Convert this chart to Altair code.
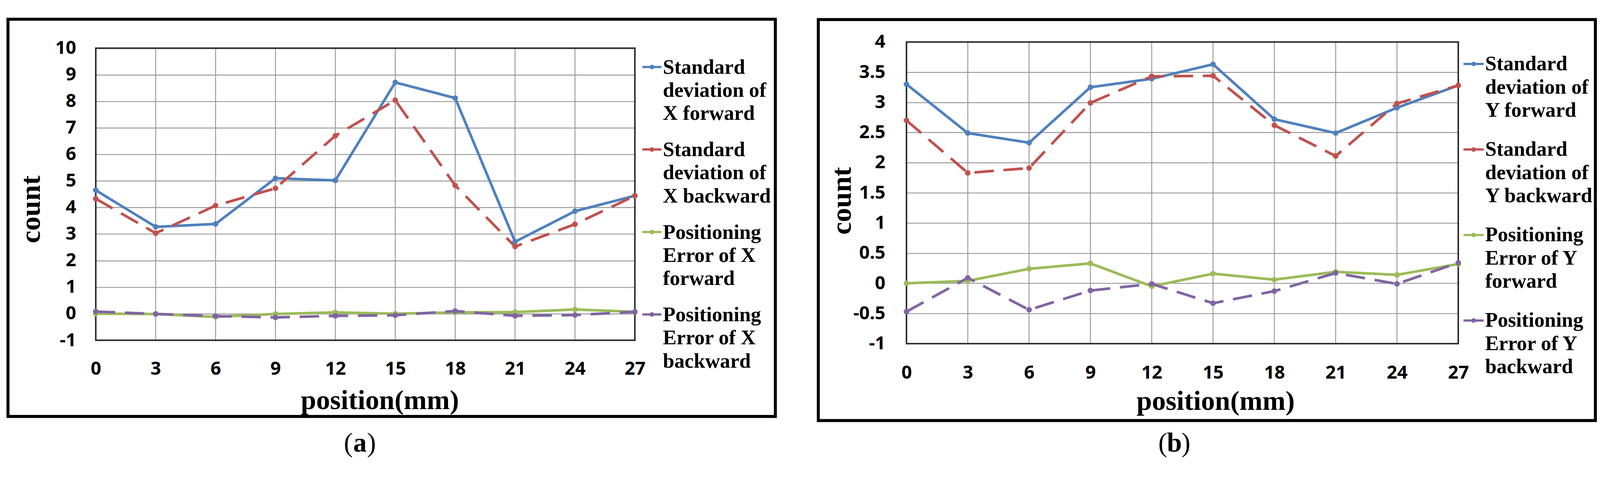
import altair as alt
import pandas as pd

# ---------------- data ----------------
positions = [0, 3, 6, 9, 12, 15, 18, 21, 24, 27]

series_a = ["Standard deviation of X forward", "Standard deviation of X backward",
            "Positioning Error of X forward", "Positioning Error of X backward"]
legend_a = [["Standard", "deviation of", "X forward"],
            ["Standard", "deviation of", "X backward"],
            ["Positioning", "Error of X", "forward"],
            ["Positioning", "Error of X", "backward"]]
std_x_fwd = [4.65, 3.27, 3.38, 5.10, 5.02, 8.71, 8.12, 2.71, 3.86, 4.44]
std_x_bwd = [4.33, 3.03, 4.07, 4.72, 6.70, 8.04, 4.83, 2.53, 3.37, 4.44]
pos_x_fwd = [0.00, -0.01, -0.12, -0.01, 0.05, 0.00, 0.05, 0.06, 0.16, 0.07]
pos_x_bwd = [0.08, -0.01, -0.09, -0.14, -0.08, -0.06, 0.10, -0.08, -0.05, 0.07]

series_b = ["Standard deviation of Y forward", "Standard deviation of Y backward",
            "Positioning Error of Y forward", "Positioning Error of Y backward"]
legend_b = [["Standard", "deviation of", "Y forward"],
            ["Standard", "deviation of", "Y backward"],
            ["Positioning", "Error of Y", "forward"],
            ["Positioning", "Error of Y", "backward"]]
std_y_fwd = [3.30, 2.49, 2.33, 3.25, 3.39, 3.63, 2.72, 2.49, 2.91, 3.28]
std_y_bwd = [2.70, 1.83, 1.91, 2.99, 3.43, 3.44, 2.62, 2.11, 2.98, 3.28]
pos_y_fwd = [0.00, 0.04, 0.24, 0.33, -0.05, 0.16, 0.06, 0.19, 0.14, 0.32]
pos_y_bwd = [-0.47, 0.09, -0.44, -0.12, -0.01, -0.33, -0.13, 0.17, -0.01, 0.34]

y_ticks_a = [-1, 0, 1, 2, 3, 4, 5, 6, 7, 8, 9, 10]
y_ticks_b = [-1, -0.5, 0, 0.5, 1, 1.5, 2, 2.5, 3, 3.5, 4]

x_title = "position(mm)"
y_title = "count"
letters = ["a", "b"]

colors = ["#4F81BD", "#C0504D", "#9BBB59", "#8064A2"]
dashes = [[1, 0], [52, 26], [1, 0], [52, 26]]

LABEL_FONT = "Open Sans"
TITLE_FONT = "Liberation Serif"
GRID = "#9a9a9a"


def long_df(names, value_lists):
    rows = []
    for name, vals in zip(names, value_lists):
        for p, v in zip(positions, vals):
            rows.append({"pos": p, "value": v, "series": name})
    return pd.DataFrame(rows)


ONE = pd.DataFrame({"k": [0]})


def make_panel(df, names, legend_lines, y_ticks, letter, g):
    ymin, ymax = y_ticks[0], y_ticks[-1]
    x_scale = alt.Scale(domain=[positions[0], positions[-1]], nice=False, zero=False)
    y_scale = alt.Scale(domain=[ymin, g["ytop"]], nice=False, zero=False)
    x_axis = alt.Axis(values=positions, labelExpr="'' + datum.value", title=x_title,
                      grid=False, domain=False, ticks=False, labelFlush=False,
                      labelOverlap=False, labelPadding=g["xlabpad"],
                      labelFont=LABEL_FONT, labelFontSize=49, labelFontWeight="bold",
                      labelColor="black", titleFont=TITLE_FONT, titleFontSize=74,
                      titleFontWeight="bold", titleColor="black",
                      titleX=g["xt"][0], titleY=g["xt"][1], titleAlign="center",
                      titleBaseline="alphabetic")
    y_axis = alt.Axis(values=y_ticks, labelExpr="'' + datum.value", title=y_title,
                      grid=True, gridColor=GRID, gridWidth=2.5, domain=False, ticks=False,
                      labelOverlap=False, labelPadding=g["ylabpad"],
                      labelFont=LABEL_FONT, labelFontSize=49, labelFontWeight="bold",
                      labelColor="black", titleFont=TITLE_FONT, titleFontSize=76,
                      titleFontWeight="bold", titleColor="black",
                      titleX=g["yt"][0], titleY=g["yt"][1], titleAngle=270,
                      titleAlign="center", titleBaseline="middle", titleLimit=600)
    X = alt.X("pos:Q", scale=x_scale, axis=x_axis)
    Y = alt.Y("value:Q", scale=y_scale, axis=y_axis)

    grid_df = pd.DataFrame({"pos": positions, "value": [ymin] * len(positions),
                            "value2": [ymax] * len(positions)})
    vgrid = alt.Chart(grid_df).mark_rule(color=GRID, strokeWidth=2.5).encode(
        x=X, y=Y, y2="value2:Q")

    border_df = pd.DataFrame({"pos": [positions[0]], "pos2": [positions[-1]],
                              "value": [ymin], "value2": [ymax]})
    border = alt.Chart(border_df).mark_rect(fillOpacity=0, stroke="#262626",
                                            strokeWidth=4).encode(
        x=X, x2="pos2:Q", y=Y, y2="value2:Q")

    color = alt.Color("series:N", scale=alt.Scale(domain=names, range=colors), legend=None)
    dash = alt.StrokeDash("series:N", scale=alt.Scale(domain=names, range=dashes), legend=None)
    lines = alt.Chart(df).mark_line(strokeWidth=7).encode(
        x=X, y=Y, color=color, strokeDash=dash, detail="series:N")
    points = alt.Chart(df).mark_circle(size=220, opacity=1).encode(x=X, y=Y, color=color)

    layers = [vgrid, border, lines, points]

    # legend
    lx0, lx1 = g["leg_line"]
    for i, lines_txt in enumerate(legend_lines):
        sy = g["leg_sample_y"][i]
        layers.append(alt.Chart(ONE).mark_rule(color=colors[i], strokeWidth=6).encode(
            x=alt.value(lx0), x2=alt.value(lx1), y=alt.value(sy)))
        layers.append(alt.Chart(ONE).mark_circle(size=150, opacity=1, color=colors[i]).encode(
            x=alt.value((lx0 + lx1) / 2), y=alt.value(sy)))
        layers.append(alt.Chart(ONE).mark_text(
            lineBreak="\n", lineHeight=62, align="left", baseline="alphabetic",
            font=TITLE_FONT, fontSize=55, fontWeight="bold", color="black").encode(
            x=alt.value(g["leg_text_x"]), y=alt.value(g["leg_base_y"][i]),
            text=alt.value("\n".join(lines_txt))))

    # outer panel frame
    bx0, bx1, by0, by1 = g["box"]
    layers.append(alt.Chart(ONE).mark_rect(fillOpacity=0, stroke="black", strokeWidth=8).encode(
        x=alt.value(bx0), x2=alt.value(bx1), y=alt.value(by0), y2=alt.value(by1)))

    # invisible layout anchor
    px0, px1, py0, py1 = g["pin"]
    layers.append(alt.Chart(ONE).mark_rect(opacity=0).encode(
        x=alt.value(px0), x2=alt.value(px1), y=alt.value(py0), y2=alt.value(py1)))

    # caption (a)/(b)
    cx, cy = g["cap"]
    half = 19
    layers.append(alt.Chart(ONE).mark_text(align="center", baseline="alphabetic",
                                           font=TITLE_FONT, fontSize=72, fontWeight="bold",
                                           color="black").encode(
        x=alt.value(cx), y=alt.value(cy), text=alt.value(letter)))
    layers.append(alt.Chart(ONE).mark_text(align="right", baseline="alphabetic",
                                           font=TITLE_FONT, fontSize=72, color="black").encode(
        x=alt.value(cx - half), y=alt.value(cy), text=alt.value("(")))
    layers.append(alt.Chart(ONE).mark_text(align="left", baseline="alphabetic",
                                           font=TITLE_FONT, fontSize=72, color="black").encode(
        x=alt.value(cx + half), y=alt.value(cy), text=alt.value(")")))

    return alt.layer(*layers).properties(width=g["w"], height=g["h"])


geom_a = dict(w=1443, h=799, ytop=10 + 16.5 / 71.136, xlabpad=53, ylabpad=53,
              xt=(760, 184), yt=(-173, 448),
              leg_line=(1463, 1514), leg_sample_y=[67, 288, 509, 730],
              leg_text_x=1518, leg_base_y=[85, 306, 527, 748],
              box=(-235, 1819, -61, 1003), pin=(-248, 1830, -77, 1000),
              cap=(707, 1097))
geom_b = dict(w=1477, h=808, ytop=4, xlabpad=54, ylabpad=57,
              xt=(827, 177), yt=(-173, 425),
              leg_line=(1491, 1545), leg_sample_y=[59, 288, 517, 746],
              leg_text_x=1549, leg_base_y=[76, 305, 534, 763],
              box=(-236, 1844, -60, 1014), pin=(-340, 1840, -60, 1000),
              cap=(717, 1097))

df_a = long_df(series_a, [std_x_fwd, std_x_bwd, pos_x_fwd, pos_x_bwd])
df_b = long_df(series_b, [std_y_fwd, std_y_bwd, pos_y_fwd, pos_y_bwd])

panel_a = make_panel(df_a, series_a, legend_a, y_ticks_a, letters[0], geom_a)
panel_b = make_panel(df_b, series_b, legend_b, y_ticks_b, letters[1], geom_b)

chart = alt.hconcat(panel_a, panel_b, spacing=0).properties(
    padding=0, background="white"
).configure_view(stroke="transparent", strokeWidth=0)

chart.save("out.html", embed_options={"renderer": "svg", "actions": False})
